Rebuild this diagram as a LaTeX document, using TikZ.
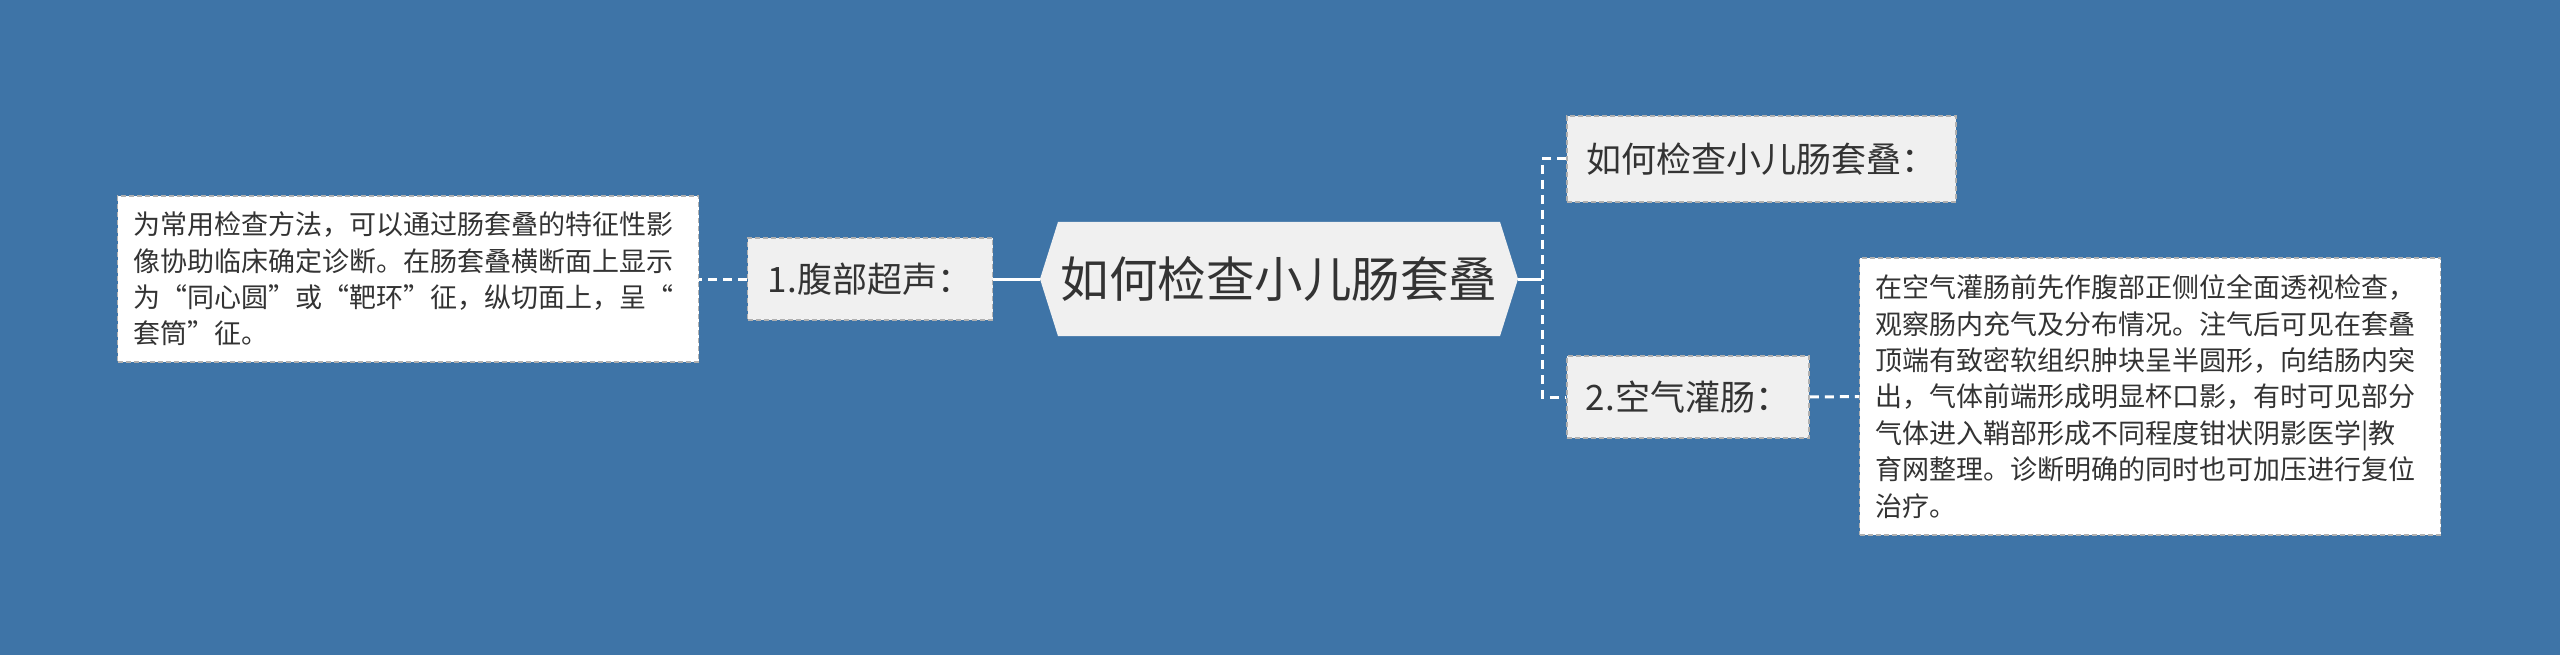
\documentclass[tikz,border=0pt]{standalone}
\usepackage{fontspec}
\usepackage{tikz}
\usepackage{xcolor}
\usetikzlibrary{positioning,shapes.symbols}
\newfontfamily\cjk{Noto Sans CJK SC}
\definecolor{MapBlue}{HTML}{3E74A7}
\definecolor{BoxGrey}{HTML}{F0F0F0}
\definecolor{EdgeGrey}{HTML}{B0B0B0}
\definecolor{InkGrey}{HTML}{333333}

\tikzset{
  branchbox/.style={draw=EdgeGrey, dashed, dash pattern=on 5pt off 3pt, line width=1.5pt,
    fill=BoxGrey, text=InkGrey, inner sep=0pt, font=\cjk\fontsize{35}{42}\selectfont},
  leafbox/.style={draw=EdgeGrey, dashed, dash pattern=on 5pt off 3pt, line width=1.5pt,
    fill=white, text=InkGrey, inner sep=0pt, align=left,
    font=\cjk\fontsize{27}{36.4}\selectfont},
  solidlink/.style={draw=white, line width=3pt},
  dashlink/.style={draw=white, line width=3pt, dash pattern=on 9pt off 6pt}
}

\begin{document}
\begin{tikzpicture}[x=1pt, y=-1pt]
    % Background
    \fill[MapBlue] (0,0) rectangle (2560,655);
    \useasboundingbox (0,0) rectangle (2560,655);

    % Central topic
    \node[signal, signal to=west and east, signal pointer angle=145,
          fill=BoxGrey, text=InkGrey, inner sep=0pt,
          minimum width=478pt, minimum height=114pt,
          font=\cjk\fontsize{48.5}{54}\selectfont] (title) at (1279,279) {如何检查小儿肠套叠};

    % Left branch
    \node[branchbox, minimum width=245pt, minimum height=82pt] (ultra) at (870,279) {1.腹部超声：};
    \node[leafbox, minimum width=581pt, minimum height=166pt, text width=549pt] (ultranote) at (408,279)
        {为常用检查方法，可以通过肠套叠的特征性影\\
         像协助临床确定诊断。在肠套叠横断面上显示\\
         为“同心圆”或“靶环”征，纵切面上，呈“\\
         套筒”征。};

    % Right branches
    \node[branchbox, minimum width=389pt, minimum height=86pt] (howto) at (1761.5,159) {如何检查小儿肠套叠：};
    \node[branchbox, minimum width=242pt, minimum height=82pt] (enema) at (1688,397) {2.空气灌肠：};
    \node[leafbox, minimum width=581pt, minimum height=277pt, text width=549pt] (enemanote) at (2150,396.5)
        {在空气灌肠前先作腹部正侧位全面透视检查，\\
         观察肠内充气及分布情况。注气后可见在套叠\\
         顶端有致密软组织肿块呈半圆形，向结肠内突\\
         出，气体前端形成明显杯口影，有时可见部分\\
         气体进入鞘部形成不同程度钳状阴影医学|教\\
         育网整理。诊断明确的同时也可加压进行复位\\
         治疗。};

    % Connectors
    \coordinate (fork) at (1542,279);
    \draw[solidlink] (title.west) -- (ultra.east);
    \draw[dashlink] (ultra.west) -- (ultranote.east);
    \draw[solidlink] (title.east) -- (fork);
    \draw[dashlink] (howto.west) -| (fork) |- (enema.west);
    \draw[dashlink] (enema.east) -- (enemanote.west);

\end{tikzpicture}
\end{document}
